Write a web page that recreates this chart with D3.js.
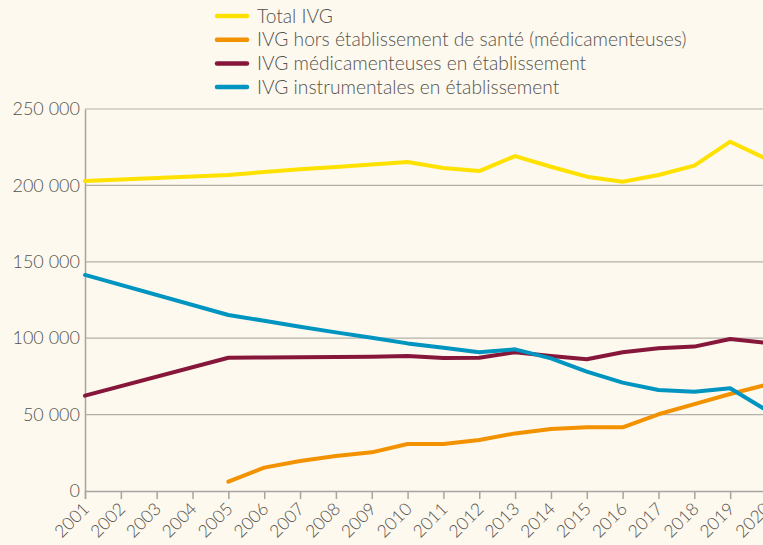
<!DOCTYPE html>
<html>
<head>
<meta charset="utf-8">
<script src="https://cdn.jsdelivr.net/npm/d3@7"></script>
<style>
  html, body { margin: 0; padding: 0; background: #fdf9ee; }
  svg { display: block; font-family: "Lato", sans-serif; font-weight: 300; }
</style>
</head>
<body>
<div id="chart"></div>
<script>
"use strict";
// années
const years = [2001,2002,2003,2004,2005,2006,2007,2008,2009,2010,2011,2012,2013,2014,2015,2016,2017,2018,2019,2020];
// séries (null = pas de donnée)
const totalIVG = [202900,null,null,null,206800,208800,210600,212000,213600,215300,211400,209400,219200,212200,205700,202400,206800,212900,228600,217500];
const horsEtab = [null,null,null,null,6100,15300,19600,22900,25300,30800,30800,33400,37700,40600,41700,41700,50200,56900,63500,69500];
const medicEtab = [62400,null,null,null,87200,87400,87500,87700,87900,88300,87000,87200,90800,88300,86200,90800,93400,94500,99500,96900];
const instruEtab = [141400,null,null,null,115200,111400,107500,103800,100300,96600,93800,90800,92700,86800,78100,70900,66100,65000,67200,53000];
const yTicks = [0,50000,100000,150000,200000,250000];

const series = [
  {name: "Total IVG", values: totalIVG, color: "#ffe100"},
  {name: "IVG hors établissement de santé (médicamenteuses)", values: horsEtab, color: "#f39200"},
  {name: "IVG médicamenteuses en établissement", values: medicEtab, color: "#86173a"},
  {name: "IVG instrumentales en établissement", values: instruEtab, color: "#0095c1"}
];

const width = 763, height = 545;
const margin = {left: 85, top: 109, bottom: 54};
const fmt = v => v === 0 ? "0" : d3.format(",")(v).replace(/,/g, " ");

const svg = d3.select("#chart").append("svg")
  .attr("width", width).attr("height", height);

const x = d3.scaleLinear().domain([2001, 2020]).range([margin.left, 766]);
const y = d3.scaleLinear().domain([0, 250000]).range([height - margin.bottom, margin.top]);

// grille horizontale
svg.append("g").selectAll("line").data(yTicks.filter(d => d > 0)).join("line")
  .attr("x1", margin.left).attr("x2", width)
  .attr("y1", d => y(d)).attr("y2", d => y(d))
  .attr("stroke", "#b4b1aa").attr("stroke-width", 1.2);

// axe Y
const yAxis = svg.append("g").attr("transform", `translate(${margin.left},0)`)
  .call(d3.axisLeft(y).tickValues(yTicks).tickSize(0).tickPadding(5).tickFormat(fmt))
  .attr("font-family", null).attr("font-size", null);
yAxis.select(".domain").attr("stroke", "#a8a5a0").attr("stroke-width", 1.5);
yAxis.selectAll("text").attr("fill", "#55524f").attr("font-size", 18);

// axe X
const xAxis = svg.append("g").attr("transform", `translate(0,${y(0)})`)
  .call(d3.axisBottom(x).tickValues(years).tickSize(8).tickFormat(d3.format("d")))
  .attr("font-family", null).attr("font-size", null);
xAxis.select(".domain").attr("stroke", "#a8a5a0").attr("stroke-width", 1.5);
xAxis.selectAll(".tick line").attr("stroke", "#a8a5a0").attr("stroke-width", 1.5);
xAxis.selectAll("text")
  .attr("fill", "#55524f").attr("font-size", 17.5)
  .attr("text-anchor", "end")
  .attr("x", 0).attr("y", 0).attr("dy", 0)
  .attr("transform", "translate(5,19) rotate(-45)");

// courbes
const line = d3.line()
  .x(d => x(d.year)).y(d => y(d.v));

svg.append("g").selectAll("path").data(series).join("path")
  .attr("fill", "none")
  .attr("stroke", d => d.color)
  .attr("stroke-width", 4)
  .attr("stroke-linejoin", "round")
  .attr("stroke-linecap", "round")
  .attr("d", d => line(years.map((yr, i) => ({year: yr, v: d.values[i]})).filter(p => p.v !== null)));

// légende
const leg = svg.append("g").attr("transform", "translate(215,16)");
const items = leg.selectAll("g").data(series).join("g")
  .attr("transform", (d, i) => `translate(0,${i * 23.7})`);
items.append("line")
  .attr("x1", 2).attr("x2", 32).attr("y1", 0).attr("y2", 0)
  .attr("stroke", d => d.color).attr("stroke-width", 4.5).attr("stroke-linecap", "round");
items.append("text")
  .attr("x", 42).attr("y", 0).attr("dy", "0.35em")
  .attr("fill", "#55524f").attr("font-size", 19.2)
  .text(d => d.name);
</script>
</body>
</html>
